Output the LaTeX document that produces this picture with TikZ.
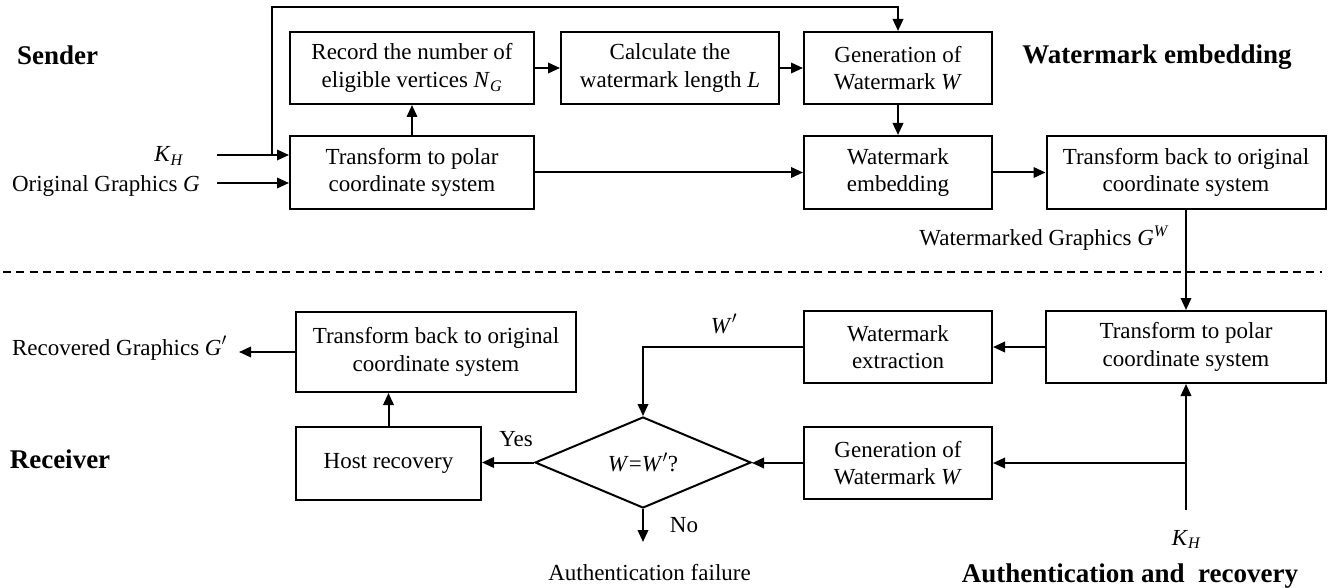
\documentclass[tikz,border=0pt]{standalone}
\usepackage{fontspec}
\usepackage{amsmath}
\setmainfont{Liberation Serif}
\usetikzlibrary{arrows.meta,shapes.geometric}
\newcommand{\bxfont}{\fontsize{23}{27.5}\selectfont}
\newcommand{\hdfont}{\fontsize{27}{32}\selectfont\bfseries}
\begin{document}
\begin{tikzpicture}[x=1pt,y=-1pt,
  box/.style={draw, line width=2pt, align=center, inner sep=0pt, font=\bxfont},
  arr/.style={line width=2pt, -{Triangle[length=12pt,width=10.5pt]}},
  ln/.style={line width=2pt},
  lbl/.style={font=\bxfont, inner sep=0pt},
  hd/.style={font=\hdfont, inner sep=0pt}]
\useasboundingbox (0,0) rectangle (1336,588);

% ---------- sender ----------
\node[box, minimum width=244pt, minimum height=72pt] (rec) at (412,68) {Record the number of\\eligible vertices \textit{N}$_{\textit{G}}$};
\node[box, minimum width=244pt, minimum height=73pt] (tp1) at (412,172.5) {Transform to polar\\coordinate system};
\node[box, minimum width=218pt, minimum height=72pt] (calc) at (670,68) {Calculate the\\watermark length \textit{L}};
\node[box, minimum width=188pt, minimum height=72pt] (gen1) at (898,68) {Generation of\\Watermark \textit{W}};
\node[box, minimum width=188pt, minimum height=73pt] (emb) at (898,172.5) {Watermark\\embedding};
\node[box, minimum width=279pt, minimum height=73pt] (tb1) at (1186,172.5) {Transform back to original\\coordinate system};

\node[hd, anchor=base] (snd) at (57.5,65) {Sender};
\node[hd, anchor=base] (wme) at (1157,64) {Watermark embedding};

\node[lbl, anchor=base east] (kh1) at (183,162) {\textit{K}$_{\textit{H}}$};
\node[lbl, anchor=base east] (og) at (200,192) {Original Graphics \textit{G}};
\coordinate (kh1s) at (217,155);
\coordinate (ogs) at (217,183);
\coordinate (j1) at (272,155);
\coordinate (tl) at (272,7);

\draw[arr] (kh1s) -- (kh1s -| tp1.west);
\draw[arr] (ogs) -- (ogs -| tp1.west);
\draw[arr] (j1) -- (tl) -| (gen1.north);
\draw[arr] (tp1.north) -- (rec.south);
\draw[arr] (rec.east) -- (calc.west);
\draw[arr] (calc.east) -- (gen1.west);
\draw[arr] (gen1.south) -- (emb.north);
\draw[arr] (tp1.east) -- (emb.west);
\draw[arr] (emb.east) -- (tb1.west);

\node[lbl, anchor=base east] (wmg) at (1168,246) {Watermarked Graphics \textit{G}$^{\textit{W}}$};

% ---------- divider ----------
\coordinate (dl) at (3,272);
\coordinate (dr) at (1322,272);
\draw[ln, dash pattern=on 8pt off 5.3pt] (dl) -- (dr);

% ---------- receiver ----------
\node[box, minimum width=280pt, minimum height=72pt] (tp2) at (1186,347) {Transform to polar\\coordinate system};
\node[box, minimum width=188pt, minimum height=72pt] (ext) at (898,347) {Watermark\\extraction};
\node[box, minimum width=188pt, minimum height=72pt] (gen2) at (898,463) {Generation of\\Watermark \textit{W}};
\node[draw, diamond, line width=2pt, minimum width=216pt, minimum height=91pt, aspect=2.37, inner sep=0pt, font=\bxfont] (dia) at (643,462.5) {\textit{W}=\textit{W}$'$?};
\node[box, minimum width=185pt, minimum height=73pt] (host) at (388.5,463.5) {Host recovery};
\node[box, minimum width=280pt, minimum height=80pt] (tb2) at (436,352) {Transform back to original\\coordinate system};

\node[hd, anchor=base] (rcv) at (60,468) {Receiver};
\node[hd, anchor=base] (aar) at (1130,582) {Authentication and\ \ recovery};

\node[lbl, anchor=base east] (recg) at (227,355) {Recovered Graphics \textit{G}$'$};
\coordinate (recend) at (239,352);
\node[lbl, anchor=base] (yes) at (516,446) {Yes};
\node[lbl, anchor=base] (no) at (684,532) {No};
\node[lbl, anchor=base] (wp) at (724,333) {\textit{W}$'$};
\node[lbl, anchor=base] (af) at (649.5,580) {Authentication failure};
\coordinate (noend) at (643,542);
\node[lbl, anchor=base] (kh2) at (1186,545) {\textit{K}$_{\textit{H}}$};
\coordinate (kh2s) at (1186,510);

\draw[arr] (tb1.south) -- (tp2.north);
\draw[arr] (tp2.west) -- (tp2.west -| ext.east);
\draw[arr] (ext.west) -| (dia.north);
\draw[arr] (gen2.west) -- (gen2.west -| dia.east);
\draw[arr] (dia.west) -- (dia.west -| host.east);
\draw[arr] (dia.south) -- (noend);
\draw[arr] (host.north) -- (host.north |- tb2.south);
\draw[arr] (tb2.west) -- (recend);
\draw[arr] (kh2s) -- (tp2.south);
\draw[arr] (kh2s |- gen2.east) -- (gen2.east);
\end{tikzpicture}
\end{document}
